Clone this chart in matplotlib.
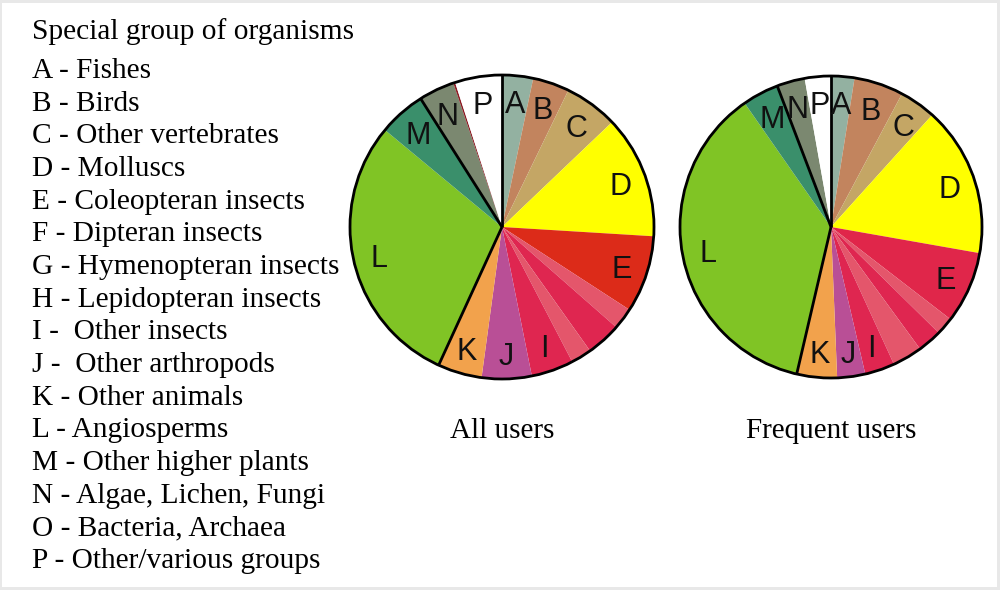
import matplotlib.pyplot as plt
from matplotlib.patches import Circle, Rectangle
import numpy as np

# group codes and names
codes = list("ABCDEFGHIJKLMNOP")
names = ["Fishes", "Birds", "Other vertebrates", "Molluscs", "Coleopteran insects",
         "Dipteran insects", "Hymenopteran insects", "Lepidopteran insects",
         " Other insects", " Other arthropods", "Other animals", "Angiosperms",
         "Other higher plants", "Algae, Lichen, Fungi", "Bacteria, Archaea",
         "Other/various groups"]

# shares in percent
all_users = [3.3, 3.9, 5.7, 13.1, 8.2, 2.3, 3.7, 2.2, 4.5, 5.3, 4.7, 29.2, 5.0, 3.8, 0.2, 5.0]
frequent_users = [2.5, 5.3, 3.9, 16.1, 7.7, 1.9, 2.6, 3.2, 3.2, 3.0, 4.3, 36.7, 3.9, 3.0, 0.0, 2.8]

base_colors = ["#93b1a1", "#c2845e", "#c4a665", "#ffff00", "#dc2b19", "#e4566b",
               "#df2650", "#e4566b", "#df2650", "#b94f96", "#f2a24c", "#80c425",
               "#3a8f6b", "#7b8870", "#8b1c24", "#ffffff"]
colors_all = list(base_colors)
colors_freq = list(base_colors)
colors_freq[4] = "#e0264a"

labelled = set("ABCDEIJKLMNP")
# black separators: before A, between K/L, between M/N
sep_index = [0, 11, 13]

fig = plt.figure(figsize=(10, 5.9), dpi=100)
fig.patch.set_facecolor("#e8e8e8")
fig.patches.append(Rectangle((2/1000, 3/590), 995/1000, 584/590, transform=fig.transFigure,
                             facecolor="white", edgecolor="none", zorder=-1))

serif = "Liberation Serif"
sans = "Liberation Sans"


def draw_pie(cx, cy, r, values, colors, title):
    ax = fig.add_axes([(cx - r)/1000, 1 - (cy + r)/590, 2*r/1000, 2*r/590])
    wedges, _ = ax.pie(values, colors=colors, startangle=90, counterclock=False,
                       radius=1, wedgeprops=dict(linewidth=0))
    for w, code in zip(wedges, codes):
        if code not in labelled:
            continue
        mid = np.deg2rad((w.theta1 + w.theta2) / 2)
        ax.text(0.83*np.cos(mid), 0.83*np.sin(mid), code, ha="center", va="center_baseline",
                fontsize=22, family=sans, color="#111111")
    for i in sep_index:
        t = np.deg2rad(wedges[i].theta2)
        ax.plot([0, np.cos(t)], [0, np.sin(t)], color="black", lw=2, solid_capstyle="butt")
    ax.add_patch(Circle((0, 0), 1, fill=False, edgecolor="black", lw=2, clip_on=False))
    ax.set_xlim(-1, 1)
    ax.set_ylim(-1, 1)
    ax.set_aspect("equal")
    ax.axis("off")
    fig.text(cx/1000, 1 - 431/590, title, ha="center", va="center", fontsize=21, family=serif)


draw_pie(502, 227, 152, all_users, colors_all, "All users")
draw_pie(831, 227, 151, frequent_users, colors_freq, "Frequent users")

# legend text on the left
fig.text(32/1000, 1 - 32/590, "Special group of organisms", ha="left", va="center",
         fontsize=21.2, family=serif)
for k, (code, name) in enumerate(zip(codes, names)):
    y = 71 + k*32.67
    fig.text(32/1000, 1 - y/590, f"{code} - {name}", ha="left", va="center",
             fontsize=21.2, family=serif)

fig.savefig("out.png", dpi=100, facecolor=fig.get_facecolor())
